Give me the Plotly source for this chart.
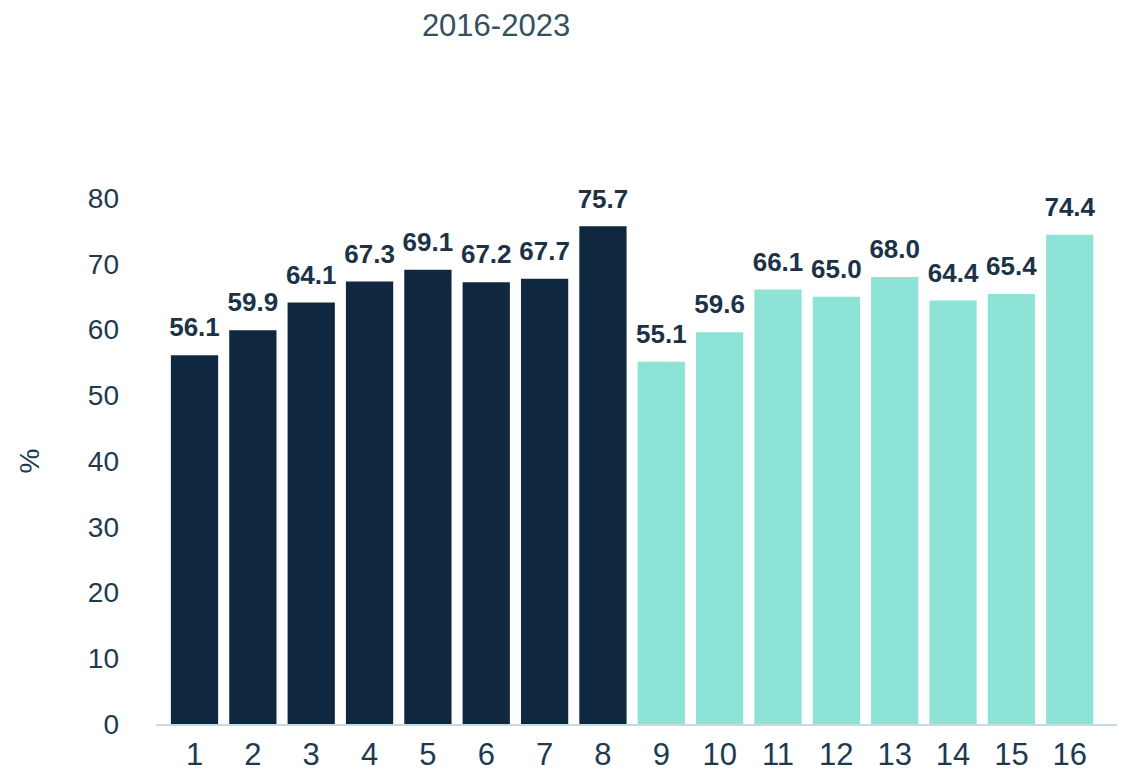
import plotly.graph_objects as go

categories = [str(i) for i in range(1, 17)]
values = [56.1, 59.9, 64.1, 67.3, 69.1, 67.2, 67.7, 75.7,
          55.1, 59.6, 66.1, 65.0, 68.0, 64.4, 65.4, 74.4]
groups = ["a"] * 8 + ["b"] * 8
y_ticks = [0, 10, 20, 30, 40, 50, 60, 70, 80]

colours = {"a": "#10283f", "b": "#8de3d6"}
text_col = "#1d3a4f"

x_pos = list(range(1, 17))
fig = go.Figure()
fig.add_trace(go.Bar(
    x=x_pos, y=values,
    marker=dict(color=[colours[g] for g in groups], line=dict(width=0)),
    showlegend=False, hoverinfo="skip",
))
# value labels, lifted a little above the bar tops
fig.add_trace(go.Scatter(
    x=x_pos, y=values, mode="markers+text",
    marker=dict(size=18, opacity=0),
    text=[f"{v:.1f}" for v in values],
    textposition="top center",
    textfont=dict(family="Liberation Sans, Arial", size=26, color="#1c3347", weight="bold"),
    cliponaxis=False, showlegend=False,
))

# the page body adds an 8px offset, so the figure is a bit smaller than the window
fig.update_layout(
    width=1118, height=764,
    margin=dict(l=148, r=9, t=190, b=48),
    paper_bgcolor="white", plot_bgcolor="white",
    bargap=0.19,
    font=dict(family="Liberation Sans, Arial", color=text_col),
    title=dict(text="2016-2023", x=0.4365, xanchor="center", xref="container",
               y=0.9777, yanchor="middle", yref="container",
               font=dict(size=31, color="#34505f", family="Liberation Sans, Arial")),
)
fig.update_xaxes(
    range=[0.34, 16.81], tickmode="array", tickvals=x_pos, ticktext=categories,
    showline=True, linecolor="#c3dde2", linewidth=2,
    showgrid=False, zeroline=False, ticks="", automargin=False,
    tickfont=dict(size=31, color=text_col), ticklabelstandoff=2,
)
fig.update_yaxes(
    range=[0, 80], tickvals=y_ticks, showgrid=False, zeroline=False,
    showline=False, ticks="", automargin=False,
    tickfont=dict(size=28, color=text_col), ticklabelstandoff=36,
    title=dict(text="%", font=dict(size=28, color=text_col), standoff=40),
)

fig.write_html("out.html")
